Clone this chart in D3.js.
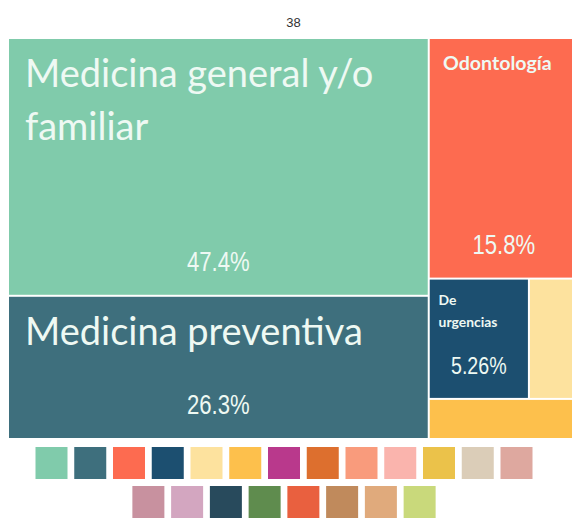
<!DOCTYPE html>
<html>
<head>
<meta charset="utf-8">
<script src="https://cdn.jsdelivr.net/npm/d3@7"></script>
<style>
    body { margin: 0; background: #fff; }
    #d3container { width: 572px; height: 519px; overflow: hidden; }
</style>
</head>
<body>
<div id="d3container"></div>
<script>
var categories = ['Medicina general y/o familiar', 'Medicina preventiva', 'Odontología', 'De urgencias', 'Otro 1', 'Otro 2'];
var counts = [18, 10, 6, 2, 1, 1];
var colors = [
    '#80cbab', '#3e6f7d', '#fd6b50', '#1c4f70', '#fde29e', '#fdc04c', '#b9398c',
    '#dd6f2e', '#f99b7c', '#fab4ad', '#ebc24a', '#dbcdb8', '#dea89f',
    '#c8919f', '#d3a6c0', '#284a5c', '#5f8c4e', '#e9603f', '#c08a5c', '#e0aa7c', '#c9d97b'
];
var title = '38';

var width = 572;
var height = 519;
var margin = {left: 9, top: 39};
var mapWidth = 569;
var mapHeight = 399;

var total = d3.sum(counts);
var pct = d3.format('.3~r');

var svg = d3.select('#d3container')
    .append('svg')
    .attr('width', width)
    .attr('height', height);

svg.append('text')
    .attr('x', margin.left + mapWidth / 2)
    .attr('y', 27)
    .attr('text-anchor', 'middle')
    .style('font-family', '"Liberation Sans", Arial, sans-serif')
    .style('font-size', '13px')
    .style('fill', '#333')
    .text(title);

var root = d3.hierarchy({
    children: categories.map(function (c, i) {
        return {name: c, value: counts[i], color: colors[i]};
    })
})
    .sum(function (d) { return d.value || 0; })
    .sort(function (a, b) { return b.value - a.value; });

d3.treemap()
    .tile(d3.treemapSquarify)
    .size([mapWidth, mapHeight])
    .paddingInner(2)(root);

var chartGroup = svg.append('g').attr('transform', 'translate(' + margin.left + ',' + margin.top + ')');

var labelSize = d3.scaleLinear().domain([99, 143]).range([14, 19]);

var cell = chartGroup.selectAll('g.cell')
    .data(root.leaves())
    .enter()
    .append('g')
    .attr('class', 'cell')
    .attr('transform', function (d) { return 'translate(' + d.x0 + ',' + d.y0 + ')'; });

cell.append('rect')
    .attr('width', function (d) { return d.x1 - d.x0; })
    .attr('height', function (d) { return d.y1 - d.y0; })
    .attr('fill', function (d) { return d.data.color; });

cell.filter(function (d) { return d.x1 - d.x0 >= 80 && d.y1 - d.y0 >= 80; })
    .each(function (d) {
        var g = d3.select(this);
        var w = d.x1 - d.x0;
        var h = d.y1 - d.y0;
        var fs = Math.min(38, labelSize(w));
        var pad = Math.min(16, w * 0.09);
        var label = g.append('text')
            .style('font-family', 'Lato, "Noto Sans", sans-serif')
            .style('font-weight', fs < 30 ? 700 : 400)
            .style('font-size', fs + 'px')
            .style('fill', '#eef9f3');

        // wrap words into lines that fit the cell
        var words = d.data.name.split(' ');
        var lines = [];
        var line = [];
        var probe = label.append('tspan');
        words.forEach(function (word) {
            line.push(word);
            probe.text(line.join(' '));
            if (probe.node().getComputedTextLength() > w - 2 * pad - 10 && line.length > 1) {
                line.pop();
                lines.push(line.join(' '));
                line = [word];
            }
        });
        lines.push(line.join(' '));
        probe.remove();

        lines.forEach(function (t, i) {
            label.append('tspan')
                .attr('x', pad)
                .attr('y', 12 + fs * 0.95 + i * fs * (fs < 30 ? 1.6 : 1.4))
                .text(t);
        });

        var ps = Math.min(27, w / 4.1);
        g.append('text')
            .attr('transform', 'translate(' + (w / 2) + ',' + (h - 24) + ') scale(0.82,1)')
            .attr('text-anchor', 'middle')
            .style('font-family', '"Liberation Sans", sans-serif')
            .style('font-size', ps + 'px')
            .style('fill', '#eef9f3')
            .text(pct(d.value / total * 100) + '%');
    });

// legend: one swatch per category colour
var rows = [colors.slice(0, 13), colors.slice(13)];
var step = 38.75;
var box = 32;
var legend = svg.append('g').attr('class', 'legend');
rows.forEach(function (row, r) {
    var start = 284 - ((row.length - 1) * step + box) / 2;
    legend.selectAll('rect.r' + r)
        .data(row)
        .enter()
        .append('rect')
        .attr('class', 'r' + r)
        .attr('x', function (d, i) { return start + i * step; })
        .attr('y', 447 + r * 39)
        .attr('width', box)
        .attr('height', box)
        .attr('fill', function (d) { return d; });
});
</script>
</body>
</html>
